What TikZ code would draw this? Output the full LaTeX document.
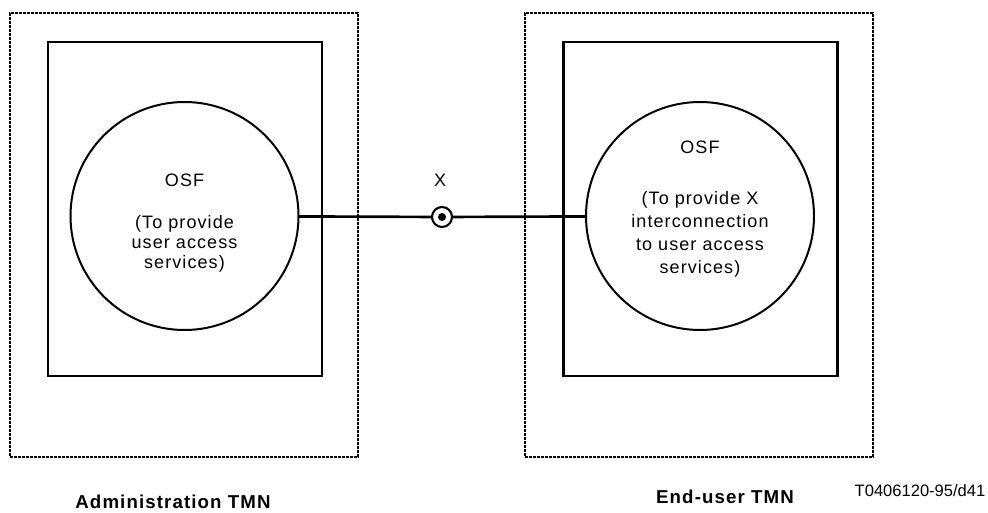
\documentclass[tikz,border=0pt]{standalone}
\usepackage{fontspec}
\setmainfont{Liberation Sans}
\newfontfamily\spacedfont[LetterSpace=6]{Liberation Sans}
\newfontfamily\tmnfont[LetterSpace=6]{Liberation Sans}
\usetikzlibrary{positioning}

\begin{document}
\begin{tikzpicture}[
  x=0.75pt, y=-0.75pt,
  node distance=6pt,
  tmnbox/.style={draw, line width=2pt, dash pattern=on 2pt off 1pt,
                 minimum width=261pt, minimum height=333pt, inner sep=0pt},
  system/.style={draw, line width=2pt, minimum width=205.5pt,
                 minimum height=250.5pt, inner sep=0pt},
  osf/.style={draw, circle, line width=1.5pt, minimum size=171pt,
              inner sep=0pt, outer sep=0pt},
  desc/.style={align=center, font=\spacedfont\fontsize{13.5}{15}\selectfont, inner sep=0pt},
  xjoint/.style={draw, circle, line width=1.6pt, minimum size=15pt,
                 inner sep=0pt, outer sep=0pt,
                 path picture={\fill (path picture bounding box.center) circle (3pt);}},
  tmn/.style={font=\tmnfont\fontsize{14}{16}\selectfont\bfseries, anchor=base},
  link/.style={line width=2pt}
]
\useasboundingbox (0,0) rectangle (988,513);
\node[tmnbox] (admdom) at (184,235) {};
\node[tmnbox] (usrdom) at (699,235) {};
\node[system] (admsys) at (185,209) {};
\node[system] (usrsys) at (700.5,209) {};
\node[osf] (osfA) at (184.5,216) {};
\node[osf] (osfB) at (700,216) {};
\node[desc] (txtA) at ([yshift=-5.6pt]osfA.center)
  {OSF\\[16.5pt](To provide\\user access\\services)};
\node[desc, font=\spacedfont\fontsize{13.5}{17.3}\selectfont] (txtB) at ([yshift=5.2pt]osfB.center)
  {OSF\\[21pt](To provide X\\interconnection\\to user access\\services)};
\node[xjoint] (xpt) at (442,217) {};
\node[desc] (xlbl) at (440,180) {X};
\draw[link] (osfA) -- (xpt);
\draw[link] (xpt) -- (osfB);
\node[tmn] (admlbl) at (173,508) {Administration TMN};
\node[tmn] (usrlbl) at (725,503) {End-user TMN};
\node[anchor=base, font=\fontsize{12.4}{15}\selectfont] (figid) at (920,496) {T0406120-95/d41};
\end{tikzpicture}
\end{document}
